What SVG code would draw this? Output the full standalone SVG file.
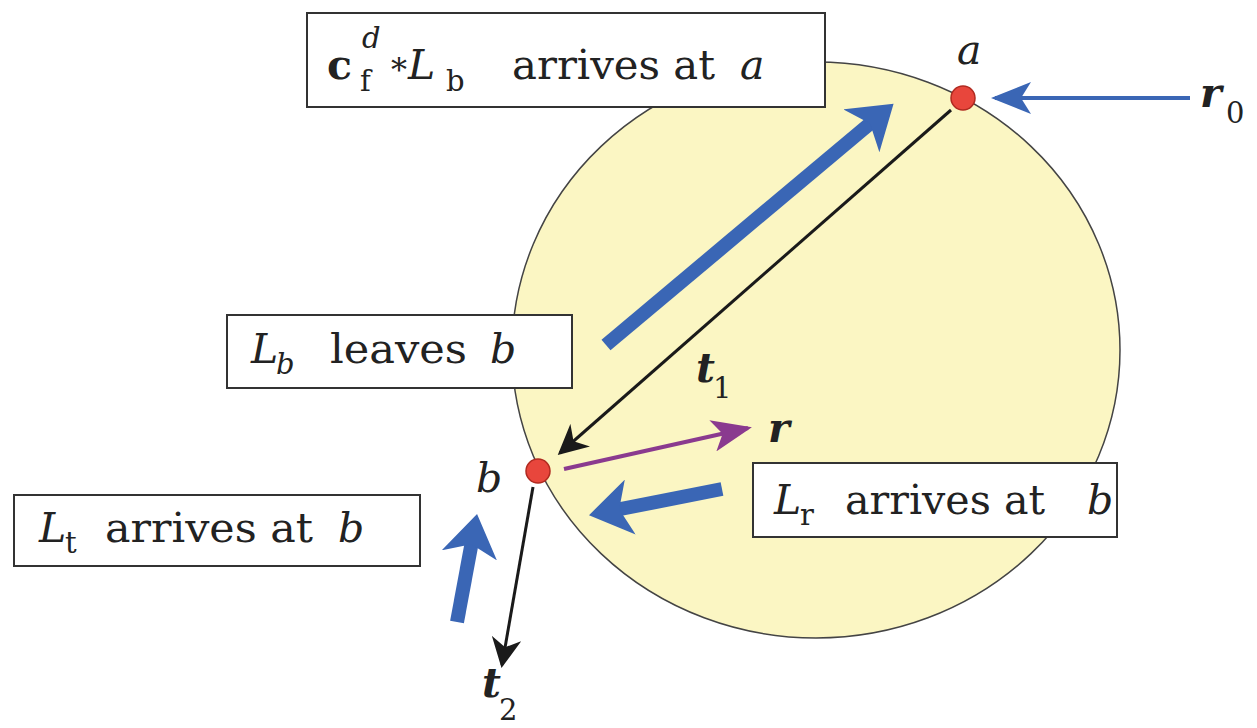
<svg xmlns="http://www.w3.org/2000/svg" width="1257" height="728" viewBox="0 0 1257 728">
<style>
.box{fill:#fff;stroke:#333;stroke-width:2}
text{font-family:'DejaVu Serif','Liberation Serif',serif;font-size:41px;fill:#222}
.i{font-style:italic}
.bi{font-style:italic;font-weight:bold}
.b{font-weight:bold}
.s{font-size:29px}
.blue{stroke:#3a66b5;fill:none}
.blk{stroke:#1a1a1a;fill:none}
</style>
<defs>
<marker id="bh" markerWidth="4" markerHeight="4" refX="2.2" refY="2" orient="auto" markerUnits="strokeWidth"><path d="M0,0 L3,2 L0,4 L0.8,2 Z" fill="#3a66b5"/></marker>
<marker id="kh2" markerWidth="10" markerHeight="10" refX="9" refY="5" orient="auto" markerUnits="strokeWidth"><path d="M0,0 L10,5 L0,10 L3,5 Z" fill="#1a1a1a"/></marker>
<marker id="ph" markerWidth="10" markerHeight="8" refX="9" refY="4" orient="auto" markerUnits="strokeWidth"><path d="M0,0 L10,4 L0,8 L2.5,4 Z" fill="#8a3a8f"/></marker>
<marker id="rh" markerWidth="10" markerHeight="8" refX="9" refY="4" orient="auto" markerUnits="strokeWidth"><path d="M0,0 L10,4 L0,8 L2.5,4 Z" fill="#3a66b5"/></marker>
</defs>
<rect width="1257" height="728" fill="#fff"/>
<g id="sphere"><ellipse cx="816" cy="350" rx="304" ry="288" fill="#fbf6c3" stroke="#444" stroke-width="1.5"/></g>
<g id="connectors">
<line x1="606" y1="345" x2="885" y2="111" class="blue" stroke-width="14" marker-end="url(#bh)"/>
<line x1="951" y1="110" x2="560" y2="453" class="blk" stroke-width="3" marker-end="url(#kh2)"/>
<line x1="1190" y1="98" x2="995" y2="98" class="blue" stroke-width="4" marker-end="url(#rh)"/>
<line x1="564" y1="469" x2="748" y2="428" stroke="#8a3a8f" stroke-width="4" marker-end="url(#ph)"/>
<line x1="722" y1="489" x2="600" y2="513" class="blue" stroke-width="14" marker-end="url(#bh)"/>
<line x1="457" y1="622" x2="475" y2="525" class="blue" stroke-width="14" marker-end="url(#bh)"/>
<line x1="533" y1="487" x2="502" y2="665" class="blk" stroke-width="3" marker-end="url(#kh2)"/>
</g>
<g id="point-a"><circle cx="963" cy="98" r="12" fill="#e8463c" stroke="#b02a20" stroke-width="1.5"/><text x="957" y="64" class="i" font-size="38">a</text></g>
<g id="point-b"><circle cx="538" cy="471" r="12" fill="#e8463c" stroke="#b02a20" stroke-width="1.5"/><text x="476" y="492" class="i">b</text></g>
<g id="label-r0"><text x="1200" y="107" class="bi" font-size="38">r<tspan class="s" x="1226" y="123" font-weight="normal" font-style="normal">0</tspan></text></g>
<g id="label-t1"><text x="696" y="382" class="bi">t<tspan class="s" x="713" y="398" font-weight="normal" font-style="normal">1</tspan></text></g>
<g id="label-r"><text x="768" y="442" class="bi">r</text></g>
<g id="label-t2"><text x="482" y="697" class="bi">t<tspan class="s" x="499" y="720" font-weight="normal" font-style="normal">2</tspan></text></g>
<g id="box-top"><rect x="307" y="13" width="518" height="94" class="box"/>
<text x="327" y="79" font-size="42"><tspan class="b">c</tspan><tspan class="s i" x="362" y="48">d</tspan><tspan class="s" x="360" y="91">f</tspan><tspan x="391" y="81" font-size="32">*</tspan><tspan class="i" x="408" y="79">L</tspan><tspan class="s" x="446" y="91">b</tspan><tspan x="512" y="79" textLength="203" lengthAdjust="spacingAndGlyphs">arrives at</tspan><tspan class="i" x="740" y="79">a</tspan></text></g>
<g id="box-lb"><rect x="227" y="315" width="345" height="73" class="box"/>
<text x="251" y="363" font-size="40"><tspan class="i">L</tspan><tspan class="s i" x="276" y="374">b</tspan><tspan x="330" y="363" textLength="137" lengthAdjust="spacingAndGlyphs">leaves</tspan><tspan class="i" x="490" y="363">b</tspan></text></g>
<g id="box-lt"><rect x="14" y="495" width="406" height="71" class="box"/>
<text x="39" y="542" font-size="41"><tspan class="i">L</tspan><tspan class="s" x="65" y="553">t</tspan><tspan x="105" y="542" textLength="208" lengthAdjust="spacingAndGlyphs">arrives at</tspan><tspan class="i" x="338" y="542">b</tspan></text></g>
<g id="box-lr"><rect x="753" y="463" width="364" height="74" class="box"/>
<text x="774" y="514" font-size="42"><tspan class="i">L</tspan><tspan class="s" x="800" y="525">r</tspan><tspan x="845" y="514" textLength="200" lengthAdjust="spacingAndGlyphs">arrives at</tspan><tspan class="i" x="1087" y="514">b</tspan></text></g>
</svg>
